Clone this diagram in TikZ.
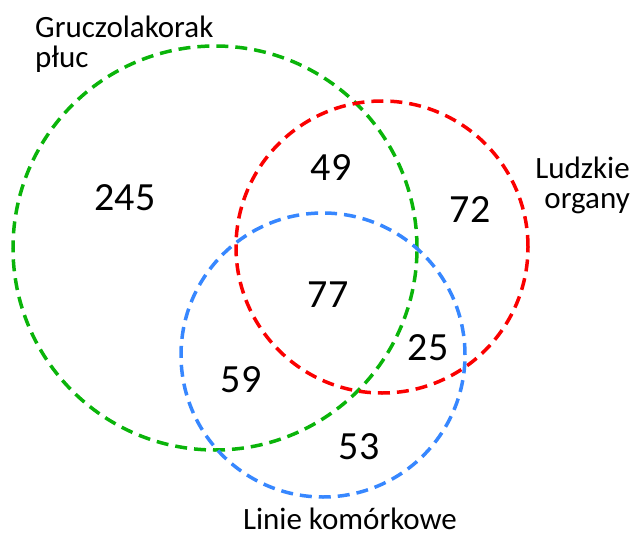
\documentclass[tikz,border=0pt]{standalone}
\usepackage{fontspec}
\setmainfont{Carlito}
\definecolor{vgreen}{RGB}{10,180,10}
\definecolor{vred}{RGB}{250,0,0}
\definecolor{vblue}{RGB}{55,135,255}
\begin{document}
\begin{tikzpicture}[x=1pt,y=-1pt,
  setcircle/.style={circle,draw=#1,line width=3.5pt,dash pattern=on 12pt off 7pt,inner sep=0pt},
  countlabel/.style={font=\fontsize{40}{40}\selectfont,inner sep=0pt},
  setlabel/.style={font=\fontsize{31}{30}\selectfont,inner sep=0pt}]
\useasboundingbox (0,0) rectangle (632,535);
\node[setcircle=vgreen,minimum size=404pt] (lung) at (215,248) {};
\node[setcircle=vred,minimum size=292pt] (organ) at (382,247) {};
\node[setcircle=vblue,minimum size=284pt] (cell) at (323,355) {};
\node[setlabel,anchor=base west,align=left] (lunglab) at (35,67) {Gruczolakorak\\płuc};
\node[setlabel,anchor=base east,align=right] (organlab) at (630,208) {Ludzkie\\organy};
\node[setlabel,anchor=base] (celllab) at (350,529) {Linie komórkowe};
\node[countlabel] (n245) at (125,198) {245};
\node[countlabel] (n49) at (331,168) {49};
\node[countlabel] (n72) at (470,210) {72};
\node[countlabel] (n77) at (328,295) {77};
\node[countlabel] (n25) at (428,348) {25};
\node[countlabel] (n59) at (241,380) {59};
\node[countlabel] (n53) at (359,447) {53};
\end{tikzpicture}
\end{document}
